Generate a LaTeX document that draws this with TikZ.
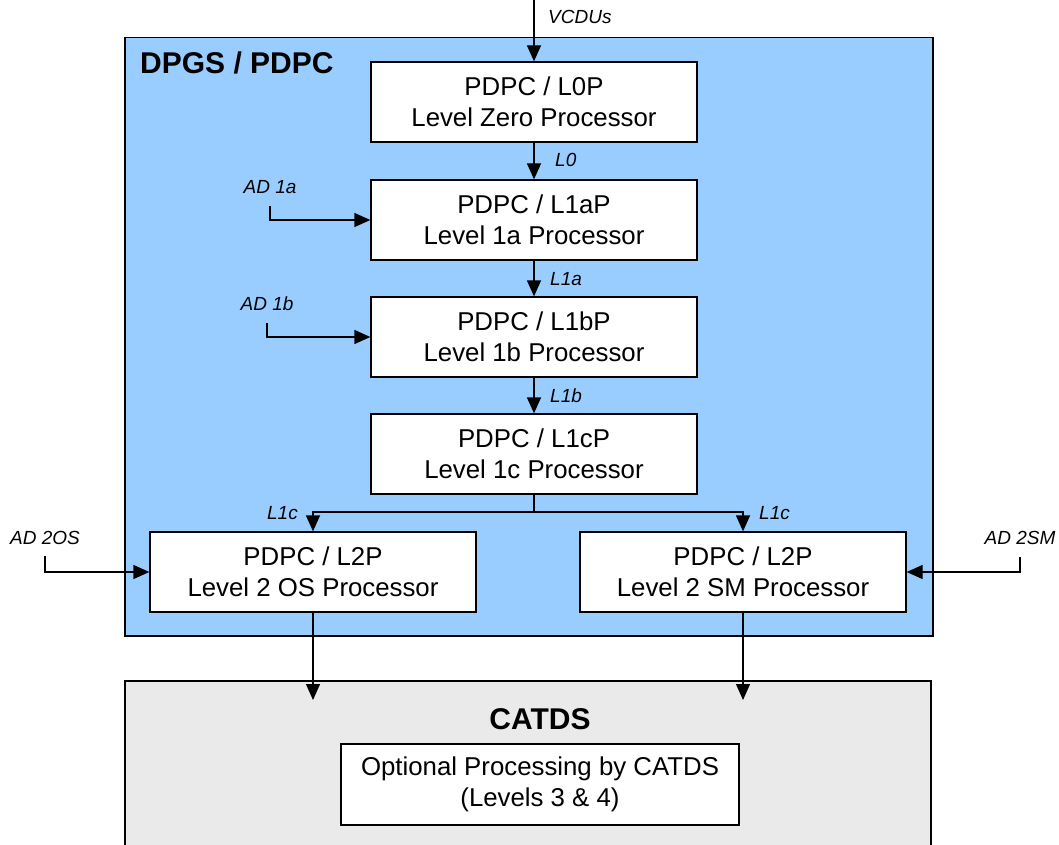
\documentclass[tikz,border=0pt]{standalone}
\usepackage{fontspec}
\setmainfont{Liberation Sans}
\usetikzlibrary{arrows.meta}
\definecolor{pdpcblue}{HTML}{99CCFF}
\definecolor{catgray}{HTML}{EAEAEA}
\begin{document}
\begin{tikzpicture}[x=1pt,y=-1pt,
  proc/.style={draw=black, fill=white, line width=1.3pt, minimum width=326pt, minimum height=80pt,
    align=center, inner sep=0pt, font=\fontsize{25.8}{31}\selectfont},
  container/.style={draw=black, line width=1.5pt, inner sep=0pt, anchor=north west},
  title/.style={font=\fontsize{30}{34}\selectfont\bfseries, inner sep=0pt},
  lbl/.style={font=\fontsize{19}{22}\selectfont\itshape, inner sep=0pt},
  arr/.style={line width=1.3pt, -{Triangle[length=16pt,width=14pt]}},
  ln/.style={line width=1.3pt}]
\useasboundingbox (0,0) rectangle (1059,845);
% containers
\node[container, fill=pdpcblue, minimum width=808pt, minimum height=598pt] (dpgs) at (124,37) {};
\node[container, fill=catgray, minimum width=806pt, minimum height=180pt] (catds) at (124,680) {};
\node[title, anchor=west] (dpgstitle) at (140,63) {DPGS / PDPC};
\node[title] (catdstitle) at (540,719) {CATDS};
% processors
\node[proc] (l0p) at (534,102) {PDPC / L0P\\Level Zero Processor};
\node[proc] (l1ap) at (534,220) {PDPC / L1aP\\Level 1a Processor};
\node[proc] (l1bp) at (534,337) {PDPC / L1bP\\Level 1b Processor};
\node[proc] (l1cp) at (534,454) {PDPC / L1cP\\Level 1c Processor};
\node[proc] (l2os) at (313,572) {PDPC / L2P\\Level 2 OS Processor};
\node[proc] (l2sm) at (743,572) {PDPC / L2P\\Level 2 SM Processor};
\node[proc, minimum width=398pt, minimum height=81pt] (opt) at (540,784.5) {Optional Processing by CATDS\\(Levels 3 \& 4)};
% inputs
\coordinate (vcdu) at (534,0);
\node[lbl, anchor=west] (vcdulbl) at (548,17) {VCDUs};
\draw[arr] (vcdu) -- (l0p.north);
\draw[arr] (l0p.south) -- (l1ap.north);
\node[lbl, anchor=west] (l0lbl) at (555,160) {L0};
\draw[arr] (l1ap.south) -- (l1bp.north);
\node[lbl, anchor=west] (l1albl) at (550,279) {L1a};
\draw[arr] (l1bp.south) -- (l1cp.north);
\node[lbl, anchor=west] (l1blbl) at (550,396) {L1b};
% AD inputs
\node[lbl] (ad1a) at (270,187) {AD 1a};
\coordinate (ad1as) at (270,206);
\draw[arr] (ad1as) |- (l1ap.west);
\node[lbl] (ad1b) at (267,304) {AD 1b};
\coordinate (ad1bs) at (267,323);
\draw[arr] (ad1bs) |- (l1bp.west);
\node[lbl] (ad2os) at (45,538) {AD 2OS};
\coordinate (ad2oss) at (45,556);
\draw[arr] (ad2oss) |- (l2os.west);
\node[lbl] (ad2sm) at (1020,538) {AD 2SM};
\coordinate (ad2sms) at (1020,557);
\draw[arr] (ad2sms) |- (l2sm.east);
% split
\coordinate (split) at (534,512);
\draw[ln] (l1cp.south) -- (split);
\draw[arr] (split) -| (l2os.north);
\draw[arr] (split) -| (l2sm.north);
\node[lbl, anchor=east] (l1cl) at (298,513) {L1c};
\node[lbl, anchor=west] (l1cr) at (759,513) {L1c};
% outputs
\coordinate (catin1) at (313,700);
\coordinate (catin2) at (743,700);
\draw[arr] (l2os.south) -- (catin1);
\draw[arr] (l2sm.south) -- (catin2);
\end{tikzpicture}
\end{document}
